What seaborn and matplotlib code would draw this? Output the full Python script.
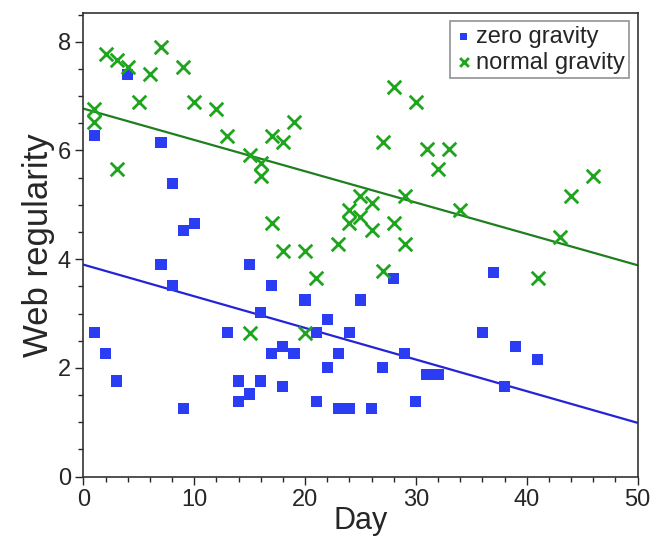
import numpy as np
import pandas as pd
import matplotlib
matplotlib.use("Agg")
import matplotlib.pyplot as plt
from matplotlib.ticker import MultipleLocator
import seaborn as sns

# zero gravity (blue squares)
zero_day = [1, 4, 7, 8, 9, 10, 7, 15, 8, 17, 16, 1, 13, 2, 17, 3, 14, 16, 15, 14, 9,
            20, 25, 22, 21, 24, 28, 18, 19, 23, 29, 22, 27, 18, 21, 23, 24, 26, 30, 31, 32,
            37, 36, 39, 41, 38]
zero_reg = [6.27, 7.40, 6.15, 5.39, 4.52, 4.65, 3.90, 3.90, 3.51, 3.51, 3.02, 2.65, 2.65,
            2.26, 2.26, 1.76, 1.76, 1.76, 1.52, 1.39, 1.26,
            3.25, 3.25, 2.89, 2.65, 2.65, 3.65, 2.39, 2.26, 2.26, 2.26, 2.01, 2.01, 1.65,
            1.39, 1.26, 1.26, 1.26, 1.39, 1.88, 1.88,
            3.76, 2.65, 2.39, 2.15, 1.66]

# normal gravity (green crosses)
normal_day = [1, 1, 2, 3, 4, 7, 6, 9, 5, 10, 12, 13, 3, 15, 16, 16, 17, 17,
              28, 30, 19, 18, 27, 31, 33, 32, 25, 26, 29, 24, 25, 24, 26, 28,
              18, 20, 23, 29, 21, 27, 20, 15, 34, 44, 46, 43, 41]
normal_reg = [6.77, 6.53, 7.78, 7.66, 7.53, 7.91, 7.41, 7.53, 6.90, 6.90, 6.77, 6.27, 5.66,
              5.91, 5.77, 5.54, 6.27, 4.67,
              7.16, 6.90, 6.53, 6.15, 6.15, 6.03, 6.03, 5.66, 5.17, 5.03, 5.17, 4.91, 4.78,
              4.67, 4.53, 4.67,
              4.16, 4.16, 4.28, 4.28, 3.65, 3.78, 2.65, 2.65, 4.91, 5.16, 5.54, 4.41, 3.65]

# fitted lines (intercept, slope)
fit_intercept = {"zero gravity": 3.90, "normal gravity": 6.77}
fit_slope = {"zero gravity": -0.0582, "normal gravity": -0.0576}

blue_pt, green_pt = "#2b3df2", "#1ea51e"
blue_ln, green_ln = "#2424d6", "#1f7f1f"

sns.set_style("ticks")
plt.rcParams["font.family"] = ["Liberation Sans", "DejaVu Sans"]

fig = plt.figure(figsize=(6.62, 5.41), dpi=100)
ax = fig.add_axes([0.126, 0.119, 0.837, 0.857])

zero_df = pd.DataFrame({"Day": zero_day, "Web regularity": zero_reg})
normal_df = pd.DataFrame({"Day": normal_day, "Web regularity": normal_reg})

# regression lines
xs = np.array([0, 50])
for name, col in [("normal gravity", green_ln), ("zero gravity", blue_ln)]:
    sns.lineplot(x=xs, y=fit_intercept[name] + fit_slope[name] * xs, color=col,
                 lw=1.6, ax=ax, legend=False)

sns.scatterplot(data=zero_df, x="Day", y="Web regularity", marker="s", s=64,
                color=blue_pt, edgecolor="none", ax=ax, label="zero gravity", zorder=3)
sns.scatterplot(data=normal_df, x="Day", y="Web regularity", marker="x", s=95,
                color=green_pt, linewidth=2, ax=ax, label="normal gravity", zorder=3)

ax.set_xlim(0, 50)
ax.set_ylim(0, 8.53)
ax.xaxis.set_major_locator(MultipleLocator(10))
ax.xaxis.set_minor_locator(MultipleLocator(2))
ax.yaxis.set_major_locator(MultipleLocator(2))
ax.yaxis.set_minor_locator(MultipleLocator(0.5))
ax.tick_params(which="major", length=6, width=1, labelsize=17, pad=3)
ax.tick_params(which="minor", length=3.5, width=1)
for sp in ax.spines.values():
    sp.set_linewidth(1.2)
    sp.set_color("#333333")

ax.set_xlabel("Day", fontsize=22, labelpad=-4)
ax.set_ylabel("Web regularity", fontsize=25, labelpad=2)

leg = ax.legend(loc="upper right", fontsize=17, frameon=True, fancybox=False,
                edgecolor="#777777", handletextpad=0.1, handlelength=0.8,
                borderpad=0.2, labelspacing=0.15, borderaxespad=0.35, markerscale=0.65)
leg.get_frame().set_linewidth(1.2)

fig.savefig("out.png", dpi=100)
